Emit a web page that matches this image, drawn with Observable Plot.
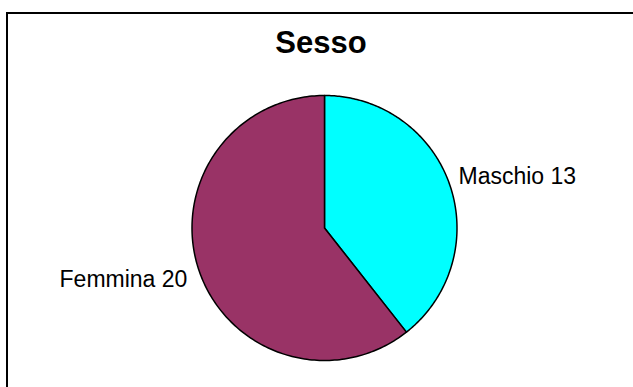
<!DOCTYPE html>
<html>
<head>
<meta charset="utf-8">
<script src="https://cdn.jsdelivr.net/npm/d3@7"></script>
<script src="https://cdn.jsdelivr.net/npm/@observablehq/plot@0.6"></script>
<style>
  html, body { margin: 0; padding: 0; background: #fff; overflow: hidden; }
  #wrap { position: relative; width: 633px; height: 387px; }
  #border { position: absolute; left: 6px; top: 12px; width: 700px; height: 500px;
            border-left: 2px solid #000; border-top: 2px solid #000; box-sizing: border-box; pointer-events: none; }
  #chart { position: absolute; left: 0; top: 0; }
</style>
</head>
<body>
<div id="wrap"><div id="chart"></div><div id="border"></div></div>
<script>
const categories = ["Maschio", "Femmina"];
const values = [13, 20];
const colors = ["#00FFFF", "#993366"];
const title = "Sesso";

const data = categories.map((c, i) => ({label: c, value: values[i], color: colors[i]}));
const arcs = d3.pie().sort(null).value(d => d.value)(data);

// polygon vertices of each slice in unit-circle coordinates
const pts = [];
arcs.forEach(a => {
  const n = 200;
  pts.push({label: a.data.label, color: a.data.color, x: 0, y: 0});
  for (let k = 0; k <= n; k++) {
    const t = a.startAngle + (a.endAngle - a.startAngle) * k / n;
    pts.push({label: a.data.label, color: a.data.color, x: Math.sin(t), y: Math.cos(t)});
  }
  pts.push({label: a.data.label, color: a.data.color, x: 0, y: 0});
});

const labels = arcs.map(a => {
  const m = (a.startAngle + a.endAngle) / 2;
  const right = Math.sin(m) >= 0;
  return {
    text: `${a.data.label} ${a.data.value}`,
    x: Math.sin(m) * (right ? 1.07 : 1.095),
    y: Math.cos(m) + (right ? 0.06 : -0.065),
    anchor: right ? "start" : "end"
  };
});

const cx = 324, cy = 227.5, r = 132.5;
const plot = Plot.plot({
  width: 633, height: 387,
  margin: 0,
  style: {fontFamily: "'Liberation Sans', Arial, sans-serif", background: "transparent"},
  x: {domain: [-1, 1], range: [cx - r, cx + r], axis: null},
  y: {domain: [-1, 1], range: [cy + r, cy - r], axis: null},
  marks: [
    Plot.line(pts, {x: "x", y: "y", z: "label", fill: "color", stroke: "#000", strokeWidth: 1.5, curve: "linear", strokeLinejoin: "round"}),
    Plot.text(labels.filter(d => d.anchor === "start"), {x: "x", y: "y", text: "text", textAnchor: "start", fontSize: 23, fill: "#000"}),
    Plot.text(labels.filter(d => d.anchor === "end"), {x: "x", y: "y", text: "text", textAnchor: "end", fontSize: 23, fill: "#000"}),
    Plot.text([title], {frameAnchor: "top", dy: 30, dx: 4, text: d => d, fontSize: 31, fontWeight: "bold", fill: "#000"})
  ]
});
document.getElementById("chart").appendChild(plot);
</script>
</body>
</html>
